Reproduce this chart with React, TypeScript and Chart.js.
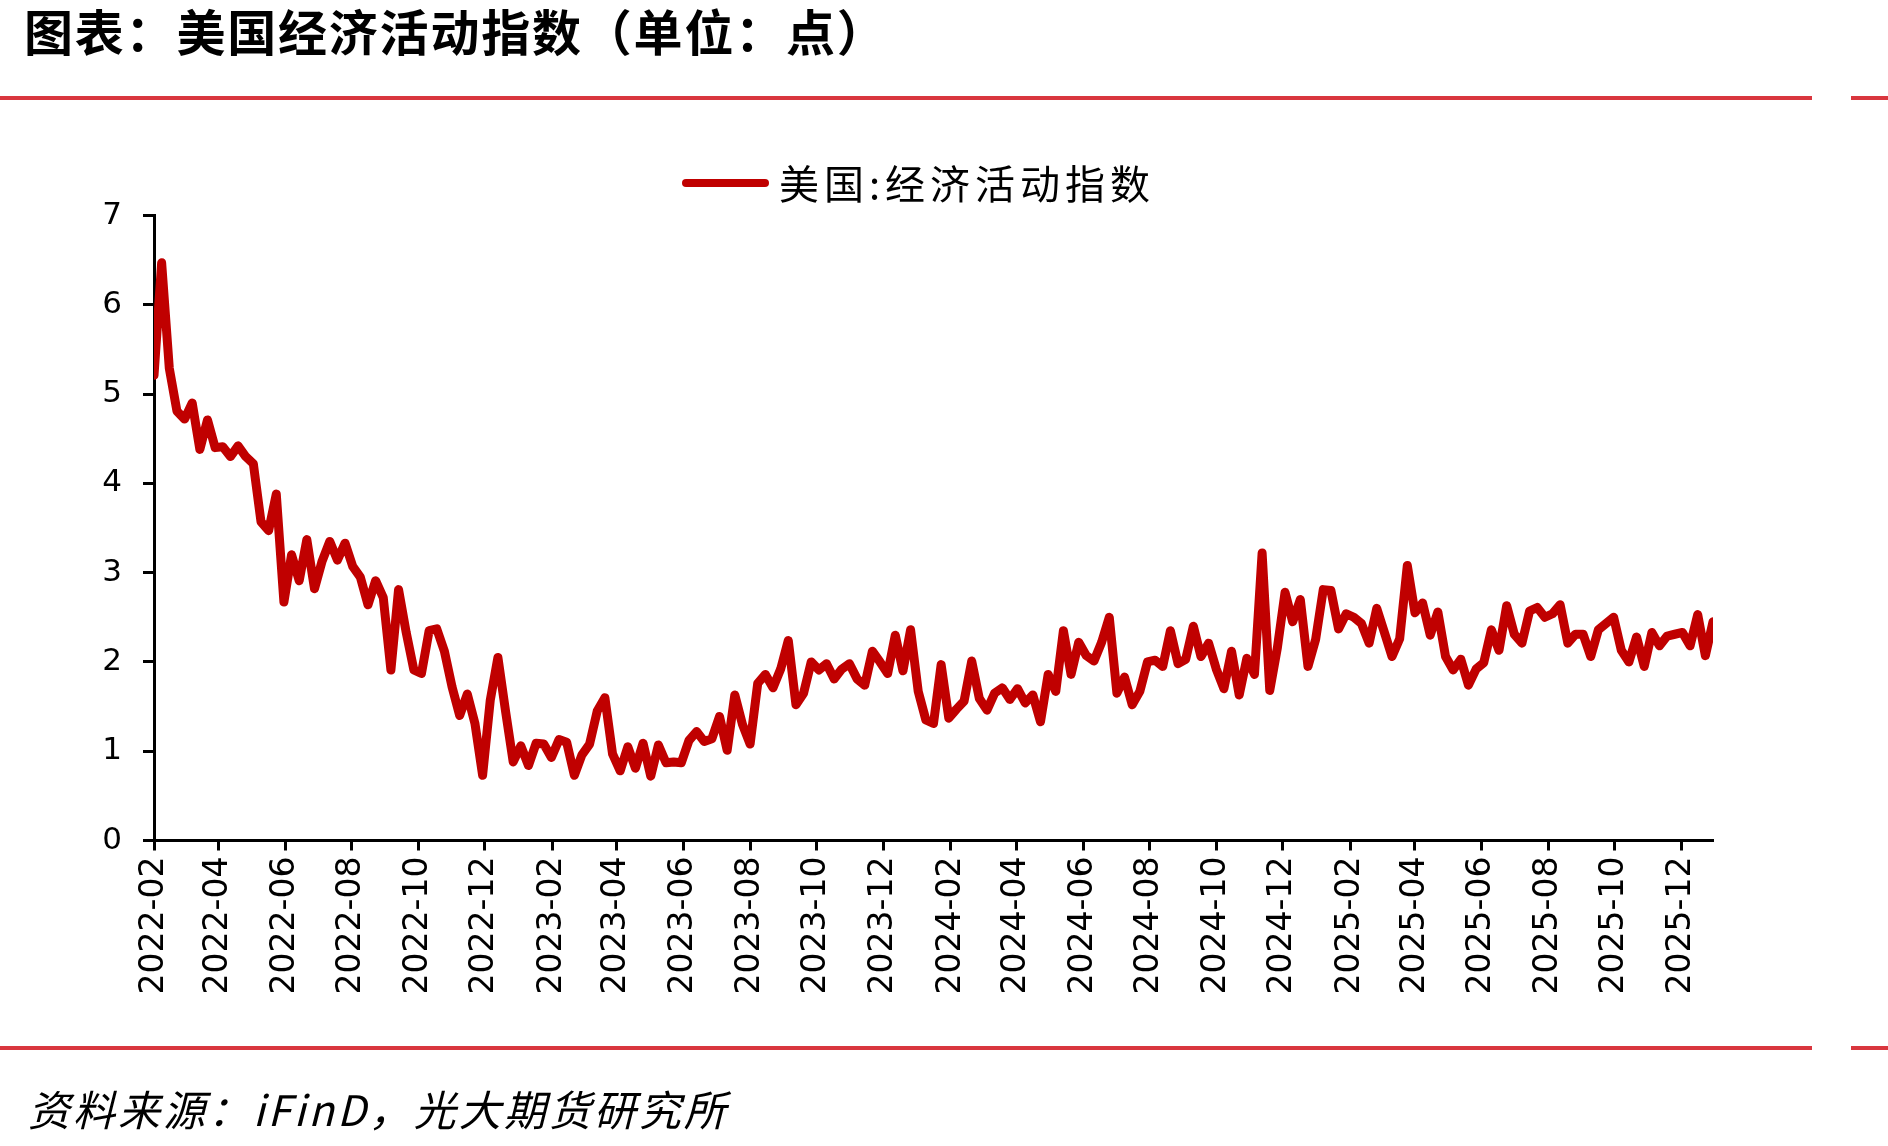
import React, { useEffect, useRef } from 'react';
import { Chart, registerables } from 'chart.js';

Chart.register(...registerables);

// ---------------- data ----------------
const TITLE = '图表：美国经济活动指数（单位：点）';
const SOURCE = '资料来源：iFinD，光大期货研究所';
const SERIES_LABEL = '美国:经济活动指数';
// weekly observations, first week ending on this date
const START_DATE = '2022-02-05';
const VALUES: number[] = [
  5.21, 6.47, 5.29, 4.81, 4.72, 4.90, 4.38, 4.71, 4.40, 4.41,
  4.30, 4.42, 4.30, 4.22, 3.57, 3.47, 3.88, 2.67, 3.20, 2.91,
  3.37, 2.82, 3.13, 3.35, 3.14, 3.33, 3.07, 2.95, 2.64, 2.91,
  2.72, 1.91, 2.81, 2.33, 1.91, 1.87, 2.35, 2.37, 2.12, 1.72,
  1.40, 1.64, 1.31, 0.73, 1.57, 2.05, 1.45, 0.88, 1.06, 0.84,
  1.09, 1.08, 0.93, 1.13, 1.10, 0.73, 0.96, 1.08, 1.45, 1.60,
  0.97, 0.78, 1.05, 0.81, 1.09, 0.72, 1.07, 0.87, 0.88, 0.87,
  1.12, 1.22, 1.11, 1.14, 1.39, 1.01, 1.63, 1.30, 1.08, 1.76,
  1.86, 1.71, 1.92, 2.24, 1.52, 1.65, 2.00, 1.91, 1.98, 1.81,
  1.92, 1.98, 1.81, 1.74, 2.12, 2.00, 1.87, 2.30, 1.90, 2.36,
  1.67, 1.35, 1.31, 1.97, 1.37, 1.47, 1.56, 2.01, 1.59, 1.46,
  1.65, 1.71, 1.58, 1.70, 1.54, 1.63, 1.33, 1.86, 1.67, 2.35,
  1.86, 2.22, 2.07, 2.01, 2.22, 2.50, 1.65, 1.83, 1.52, 1.67,
  2.00, 2.02, 1.95, 2.35, 1.98, 2.03, 2.40, 2.06, 2.21, 1.92,
  1.70, 2.12, 1.63, 2.04, 1.86, 3.22, 1.68, 2.16, 2.78, 2.45,
  2.70, 1.95, 2.25, 2.81, 2.80, 2.37, 2.54, 2.50, 2.43, 2.21,
  2.60, 2.33, 2.06, 2.26, 3.08, 2.55, 2.66, 2.30, 2.56, 2.06,
  1.91, 2.03, 1.74, 1.92, 1.99, 2.36, 2.13, 2.63, 2.31, 2.21,
  2.57, 2.61, 2.50, 2.54, 2.64, 2.21, 2.31, 2.31, 2.06, 2.36,
  2.43, 2.50, 2.13, 2.00, 2.28, 1.95, 2.33, 2.18, 2.29, 2.31,
  2.33, 2.18, 2.53, 2.07, 2.45,
];
const X_TICK_LABELS = [
  '2022-02', '2022-04', '2022-06', '2022-08', '2022-10', '2022-12',
  '2023-02', '2023-04', '2023-06', '2023-08', '2023-10', '2023-12',
  '2024-02', '2024-04', '2024-06', '2024-08', '2024-10', '2024-12',
  '2025-02', '2025-04', '2025-06', '2025-08', '2025-10', '2025-12',
];
const Y_MIN = 0;
const Y_MAX = 7;
const Y_STEP = 1;

// ---------------- helpers ----------------
const DAY_MS = 86400000;
const startMs = Date.parse(START_DATE + 'T00:00:00Z');
const startDay = START_DATE.slice(8, 10);
const dayOf = (iso: string) => Math.round((Date.parse(iso + 'T00:00:00Z') - startMs) / DAY_MS);
const tickDays = X_TICK_LABELS.map((l) => dayOf(`${l}-${startDay}`));
const points = VALUES.map((v, i) => ({ x: i * 7, y: v }));

const LINE_COLOR = '#C00000';
const RULE_COLOR = '#D9363E';
const TICK_FONT = '"DejaVu Sans", sans-serif';

const legendPlugin = {
  id: 'fixedLegend',
  afterDraw(chart: any) {
    const ds = chart.data.datasets[0];
    const ctx = chart.ctx as CanvasRenderingContext2D;
    ctx.save();
    ctx.strokeStyle = ds.borderColor;
    ctx.lineWidth = 8;
    ctx.lineCap = 'round';
    ctx.beginPath();
    ctx.moveTo(686, 183);
    ctx.lineTo(765, 183);
    ctx.stroke();
    ctx.fillStyle = '#000';
    ctx.font = '40px "Noto Sans CJK SC"';
    (ctx as any).letterSpacing = '5px';
    ctx.textAlign = 'left';
    ctx.textBaseline = 'middle';
    ctx.fillText(ds.label, 779, 184);
    ctx.restore();
  },
};

export default function App() {
  const ref = useRef<HTMLCanvasElement>(null);

  useEffect(() => {
    document.body.style.margin = '0';
    document.body.style.background = '#fff';
    const canvas = ref.current!;
    const chart = new Chart(canvas, {
      type: 'line',
      data: {
        datasets: [
          {
            label: SERIES_LABEL,
            data: points,
            borderColor: LINE_COLOR,
            backgroundColor: LINE_COLOR,
            borderWidth: 9,
            pointRadius: 0,
            pointHoverRadius: 0,
            tension: 0,
            borderJoinStyle: 'round',
            borderCapStyle: 'round',
          },
        ],
      },
      options: {
        animation: false,
        responsive: false,
        devicePixelRatio: 1,
        events: [],
        layout: { padding: { left: 40, right: 175, top: 215.5, bottom: 100 } },
        plugins: {
          legend: { display: false },
          tooltip: { enabled: false },
          title: { display: false },
        },
        scales: {
          x: {
            type: 'linear',
            min: 0,
            max: (VALUES.length - 1) * 7,
            afterBuildTicks: (scale: any) => {
              scale.ticks = tickDays.map((d) => ({ value: d }));
            },
            afterFit: (scale: any) => {
              scale.height = 1146 - 840.5 - 100;
            },
            border: { display: true, color: '#000', width: 3 },
            grid: {
              display: true,
              drawOnChartArea: false,
              drawTicks: true,
              tickLength: 10,
              tickWidth: 3,
              tickColor: '#000',
            },
            ticks: {
              autoSkip: false,
              minRotation: 90,
              maxRotation: 90,
              padding: 6,
              color: '#000',
              font: { family: TICK_FONT, size: 33 },
              callback: (_v: any, i: number) => X_TICK_LABELS[i],
            },
          },
          y: {
            min: Y_MIN,
            max: Y_MAX,
            afterFit: (scale: any) => {
              scale.width = 154 - 40;
            },
            border: { display: true, color: '#000', width: 3 },
            grid: {
              display: true,
              drawOnChartArea: false,
              drawTicks: true,
              tickLength: 11,
              tickWidth: 3,
              tickColor: '#000',
            },
            ticks: {
              stepSize: Y_STEP,
              padding: 21,
              color: '#000',
              font: { family: TICK_FONT, size: 31 },
            },
          },
        },
      },
      plugins: [legendPlugin],
    } as any);
    return () => chart.destroy();
  }, []);

  return (
    <div style={{ position: 'relative', width: 1888, height: 1146, background: '#fff', overflow: 'hidden' }}>
      <div
        style={{
          position: 'absolute', left: 24, top: 4, fontSize: 49, lineHeight: '52px', letterSpacing: 1.8,
          fontWeight: 700, fontFamily: '"Noto Sans CJK SC", sans-serif', color: '#000', whiteSpace: 'nowrap',
        }}
      >
        {TITLE}
      </div>
      <div style={{ position: 'absolute', left: 0, top: 95.5, width: 1812, height: 4, background: RULE_COLOR }} />
      <div style={{ position: 'absolute', left: 1851, top: 95.5, width: 37, height: 4, background: RULE_COLOR }} />
      <canvas ref={ref} width={1888} height={1146} style={{ position: 'absolute', left: 0, top: 0, width: 1888, height: 1146 }} />
      <div style={{ position: 'absolute', left: 0, top: 1045.5, width: 1812, height: 4, background: RULE_COLOR }} />
      <div style={{ position: 'absolute', left: 1851, top: 1045.5, width: 37, height: 4, background: RULE_COLOR }} />
      <div
        style={{
          position: 'absolute', left: 28, top: 1086, fontSize: 42, lineHeight: '44px', fontStyle: 'italic',
          fontFamily: '"Noto Sans CJK SC", sans-serif', color: '#000', whiteSpace: 'nowrap', letterSpacing: 3,
        }}
      >
        {SOURCE}
      </div>
    </div>
  );
}
